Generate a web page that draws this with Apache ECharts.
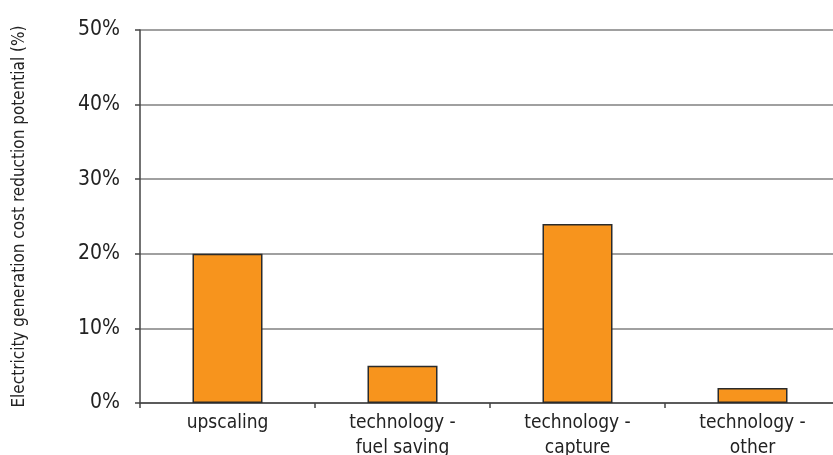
<!DOCTYPE html>
<html><head><meta charset="utf-8">
<script src="https://cdn.jsdelivr.net/npm/echarts@6/dist/echarts.min.js"></script>
<style>html,body{margin:0;padding:0;background:#fff}#c{width:833px;height:455px}</style>
</head><body><div id="c"></div>
<script>
const categories = ['upscaling', 'technology -\nfuel saving', 'technology -\ncapture', 'technology -\nother'];
const values = [20, 5, 24, 2];
const yTicks = { min: 0, max: 50, interval: 10 };
const yName = 'Electricity generation cost reduction potential (%)';
const FONT = '"Liberation Sans Narrow", "DejaVu Sans Condensed", sans-serif';
const chart = echarts.init(document.getElementById('c'));
chart.setOption({
  animation: false,
  grid: { left: 140, top: 30, width: 700, height: 373, outerBoundsMode: 'none', containLabel: false },
  xAxis: {
    type: 'category', data: categories,
    axisLine: { lineStyle: { color: '#444', width: 1.5 } },
    axisTick: { show: true, length: 5, lineStyle: { color: '#444', width: 1.5 } },
    axisLabel: { color: '#222', fontFamily: FONT, fontSize: 19, margin: 8, lineHeight: 25, interval: 0 }
  },
  yAxis: {
    type: 'value', min: yTicks.min, max: yTicks.max, interval: yTicks.interval,
    name: yName, nameLocation: 'middle', nameGap: 112,
    nameTextStyle: { color: '#222', fontFamily: FONT, fontSize: 17 },
    axisLine: { show: true, lineStyle: { color: '#444', width: 1.5 } },
    axisTick: { show: true, length: 5, lineStyle: { color: '#444', width: 1.5 } },
    axisLabel: { color: '#222', fontFamily: FONT, fontSize: 21, margin: 20, formatter: '{value}%' },
    splitLine: { lineStyle: { color: '#808080', width: 1.5 } }
  },
  series: [{
    type: 'bar', data: values, barWidth: '40%',
    itemStyle: { color: '#F7941D', borderColor: '#2b2b2b', borderWidth: 1.5 }
  }]
});
</script></body></html>
